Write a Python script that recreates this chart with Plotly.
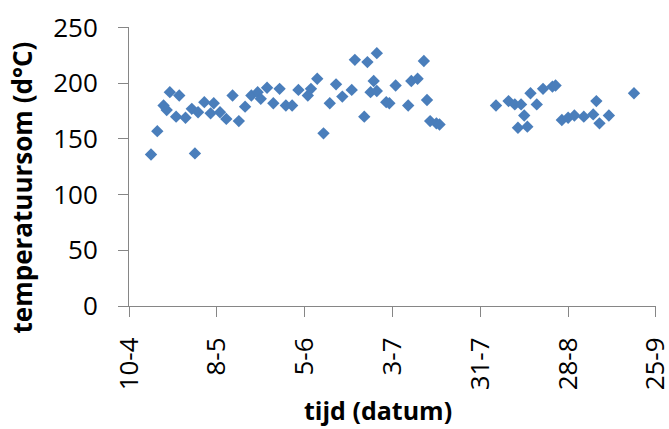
import plotly.graph_objects as go

# Measurement dates (2014) and temperature sums in degree-days
datum = [
    "2014-04-17", "2014-04-19", "2014-04-21", "2014-04-22", "2014-04-23",
    "2014-04-25", "2014-04-26", "2014-04-28", "2014-04-30", "2014-05-01",
    "2014-05-02", "2014-05-04", "2014-05-06", "2014-05-07", "2014-05-09",
    "2014-05-11", "2014-05-13", "2014-05-15", "2014-05-17", "2014-05-19",
    "2014-05-21", "2014-05-22", "2014-05-24", "2014-05-26", "2014-05-28",
    "2014-05-30", "2014-06-01", "2014-06-03", "2014-06-06", "2014-06-07",
    "2014-06-09", "2014-06-11", "2014-06-13", "2014-06-15", "2014-06-17",
    "2014-06-20", "2014-06-21", "2014-06-24", "2014-06-25", "2014-06-26",
    "2014-06-27", "2014-06-28", "2014-06-28", "2014-07-01", "2014-07-02",
    "2014-07-04", "2014-07-08", "2014-07-09", "2014-07-11", "2014-07-13",
    "2014-07-14", "2014-07-15", "2014-07-17", "2014-07-18", "2014-08-05",
    "2014-08-09", "2014-08-11", "2014-08-12", "2014-08-13", "2014-08-14",
    "2014-08-15", "2014-08-16", "2014-08-18", "2014-08-20", "2014-08-23",
    "2014-08-24", "2014-08-26", "2014-08-28", "2014-08-30", "2014-09-02",
    "2014-09-05", "2014-09-06", "2014-09-07", "2014-09-10", "2014-09-18",
]
temperatuursom = [
    136, 157, 180, 176, 192,
    170, 189, 169, 177, 137,
    174, 183, 173, 182, 174,
    168, 189, 166, 179, 189,
    192, 186, 196, 182, 195,
    180, 180, 194, 189, 195,
    204, 155, 182, 199, 188,
    194, 221, 170, 219, 192,
    202, 193, 227, 183, 182,
    198, 180, 202, 204, 220,
    185, 166, 164, 163, 180,
    184, 181, 160, 181, 171,
    161, 191, 181, 195, 197,
    198, 167, 169, 171, 170,
    172, 184, 164, 171, 191,
]

# Axis ticks
x_tick_vals = ["2014-04-10", "2014-05-08", "2014-06-05", "2014-07-03",
               "2014-07-31", "2014-08-28", "2014-09-25"]
x_tick_text = ["10-4", "8-5", "5-6", "3-7", "31-7", "28-8", "25-9"]
y_tick_vals = [0, 50, 100, 150, 200, 250]

# a small pad so the end ticks stay inside the axis range
x_range = ["2014-04-09 23:30", "2014-09-25 00:30"]

FONT = "Open Sans"
AXIS_GREY = "#868686"

fig = go.Figure(
    go.Scatter(
        x=datum,
        y=temperatuursom,
        mode="markers",
        marker=dict(symbol="diamond", size=9.5, color="#4a7ebb",
                    line=dict(width=0)),
        showlegend=False,
    )
)

fig.update_layout(
    width=669,
    height=429,
    margin=dict(l=129, r=13, t=27, b=123),
    paper_bgcolor="white",
    plot_bgcolor="white",
    font=dict(family=FONT, size=26, color="black"),
    xaxis=dict(
        type="date",
        range=x_range,
        tickmode="array",
        tickvals=x_tick_vals,
        ticktext=x_tick_text,
        tickangle=-90,
        ticklabeloverflow="allow",
        automargin=False,
        showgrid=False,
        zeroline=False,
        showline=True,
        linecolor=AXIS_GREY,
        linewidth=1,
        ticks="outside",
        ticklen=10,
        tickcolor=AXIS_GREY,
        ticklabelstandoff=10,
        tickfont=dict(family=FONT, size=26, color="black"),
    ),
    yaxis=dict(
        range=[0, 250.5],
        tickmode="array",
        tickvals=y_tick_vals,
        automargin=False,
        showgrid=False,
        zeroline=False,
        showline=True,
        linecolor=AXIS_GREY,
        linewidth=1,
        ticks="outside",
        ticklen=10,
        tickcolor=AXIS_GREY,
        ticklabelstandoff=15,
        tickfont=dict(family=FONT, size=26, color="black"),
    ),
    annotations=[
        dict(
            text="<b>tijd (datum)</b>",
            xref="paper", yref="paper",
            x=0.4725, y=-0.373,
            xanchor="center", yanchor="middle",
            showarrow=False,
            font=dict(family=FONT, size=25, color="black"),
        ),
        dict(
            text="<b>temperatuursom (d°C)</b>",
            xref="paper", yref="paper",
            x=-0.203, y=0.425,
            xanchor="center", yanchor="middle",
            textangle=-90,
            showarrow=False,
            font=dict(family=FONT, size=26, color="black"),
        ),
    ],
)

fig.write_html("out.html")
